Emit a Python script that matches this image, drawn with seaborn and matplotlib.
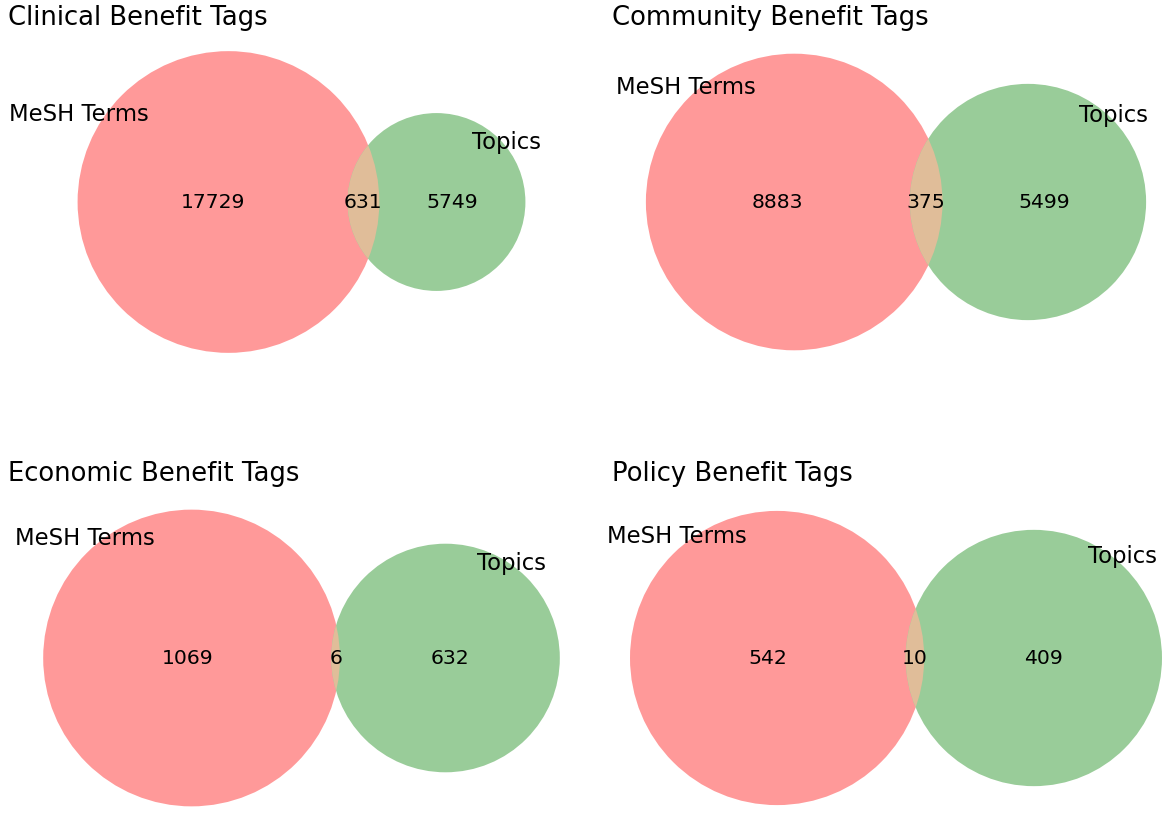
import numpy as np
import matplotlib
matplotlib.use("Agg")
import matplotlib.pyplot as plt
from matplotlib.patches import Circle
import seaborn as sns

# ---- data ----
titles = ["Clinical Benefit Tags", "Community Benefit Tags",
          "Economic Benefit Tags", "Policy Benefit Tags"]
set_names = ["MeSH Terms", "Topics"]
only_mesh = [17729, 8883, 1069, 542]
both = [631, 375, 6, 10]
only_topics = [5749, 5499, 632, 409]

# ---- style ----
sns.set_theme(style="white", color_codes=False)
plt.rcParams['font.family'] = ['DejaVu Sans']

def on_white(rgb, alpha=0.4):
    rgb = np.array(rgb, dtype=float)
    return tuple(1 - alpha + alpha * rgb)

col_a = np.array([1.0, 0.0, 0.0])
col_b = np.array([0.0, 128 / 255, 0.0])
col_ab = np.minimum(0.7 * (col_a + col_b), 1.0)
fill_a, fill_b, fill_ab = on_white(col_a), on_white(col_b), on_white(col_ab)

mesh_off = [(-0.99, 0.54), (-0.73, 0.73), (-0.72, 0.76), (-0.68, 0.78)]
topic_off = [(0.79, 0.60), (0.72, 0.68), (0.58, 0.77), (0.69, 0.74)]

W, H = 1170, 813
fig = plt.figure(figsize=(W / 100, H / 100), dpi=100)

ax_w, ax_h = 620, 363
col_centers = [301.5, 896]
row_centers = [202, 658]
title_pos = [(8, 25), (612, 25), (8, 481), (612, 481)]


def lens_area(r1, r2, d):
    if d >= r1 + r2:
        return 0.0
    if d <= abs(r1 - r2):
        return np.pi * min(r1, r2) ** 2
    a1 = r1 ** 2 * np.arccos((d * d + r1 * r1 - r2 * r2) / (2 * d * r1))
    a2 = r2 ** 2 * np.arccos((d * d + r2 * r2 - r1 * r1) / (2 * d * r2))
    k = 0.5 * np.sqrt((-d + r1 + r2) * (d + r1 - r2) * (d - r1 + r2) * (d + r1 + r2))
    return a1 + a2 - k


def solve_d(r1, r2, target):
    lo, hi = abs(r1 - r2), r1 + r2
    for _ in range(200):
        mid = 0.5 * (lo + hi)
        if lens_area(r1, r2, mid) > target:
            lo = mid
        else:
            hi = mid
    return 0.5 * (lo + hi)


for i in range(4):
    r, c = divmod(i, 2)
    total = only_mesh[i] + both[i] + only_topics[i]
    area_a = (only_mesh[i] + both[i]) / total
    area_b = (only_topics[i] + both[i]) / total
    area_ab = both[i] / total
    r1 = np.sqrt(area_a / np.pi)
    r2 = np.sqrt(area_b / np.pi)
    d = solve_d(r1, r2, area_ab)

    cx_pix = col_centers[c]
    cy_pix = row_centers[r]
    left = (cx_pix - ax_w / 2) / W
    bottom = (H - (cy_pix + ax_h / 2)) / H
    ax = fig.add_axes([left, bottom, ax_w / W, ax_h / H])

    half_y = max(r1, r2) + 0.1
    half_x = half_y * ax_w / ax_h
    xc = ((-r1) + (d + r2)) / 2
    ax.set_xlim(xc - half_x, xc + half_x)
    ax.set_ylim(-half_y, half_y)
    ax.set_aspect("equal", adjustable="datalim")
    ax.set_axis_off()

    ca = Circle((0, 0), r1, facecolor=fill_a, edgecolor="none", zorder=1)
    cb = Circle((d, 0), r2, facecolor=fill_b, edgecolor="none", zorder=2)
    ax.add_patch(ca)
    ax.add_patch(cb)
    clip = Circle((d, 0), r2, transform=ax.transData)
    lens = Circle((0, 0), r1, facecolor=fill_ab, edgecolor="none", zorder=3)
    ax.add_patch(lens)
    lens.set_clip_path(clip)

    x_a = ((-r1) + (d - r2)) / 2
    x_b = (r1 + (d + r2)) / 2
    x_ab = ((d - r2) + r1) / 2
    for x, v in [(x_a, only_mesh[i]), (x_ab, both[i]), (x_b, only_topics[i])]:
        ax.text(x, 0, str(v), ha="center", va="center", fontsize=14.7,
                color="black", zorder=5)

    mx, my = mesh_off[i]
    ax.text(mx * r1, my * r1, set_names[0], ha="center", va="baseline",
            fontsize=16.4, color="black", zorder=6)
    tx, ty = topic_off[i]
    ax.text(d + tx * r2, ty * r2, set_names[1], ha="center", va="baseline",
            fontsize=16.4, color="black", zorder=6)

    px, py = title_pos[i]
    fig.text(px / W, 1 - py / H, titles[i], ha="left", va="baseline",
             fontsize=18.6, color="black")

fig.savefig("out.png", dpi=100, facecolor="white")
